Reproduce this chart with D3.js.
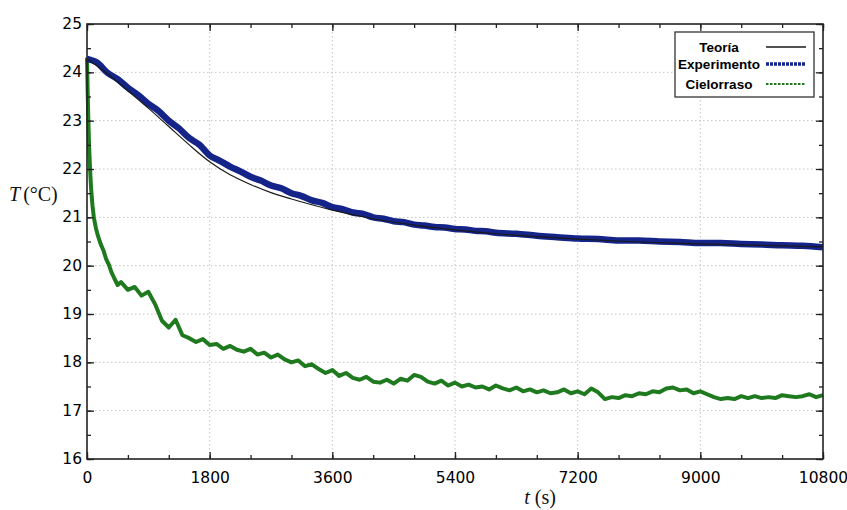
<!DOCTYPE html>
<html><head><meta charset="utf-8">
<script src="https://cdn.jsdelivr.net/npm/d3@7"></script>
<style>body{margin:0;background:#fff}svg{display:block}</style>
</head><body>
<svg id="c" width="847" height="510"></svg>
<script>
// ---- data ----
const xTicks = [0,1800,3600,5400,7200,9000,10800];
const yTicks = [16,17,18,19,20,21,22,23,24,25];

const theoryT = [0,300,600,900,1200,1500,1800,2100,2400,2700,3000,3300,3600,4200,4800,5400,6000,6600,7200,8100,9000,9900,10800];
const theoryV = [24.28,23.97,23.62,23.26,22.88,22.5,22.15,21.88,21.68,21.51,21.38,21.26,21.15,20.97,20.84,20.74,20.66,20.6,20.55,20.49,20.45,20.42,20.39];

const expT = [0,150,300,450,600,750,900,1050,1200,1350,1500,1650,1800,1950,2100,2250,2400,2550,2700,2850,3000,3150,3300,3450,3600,3750,3900,4050,4200,4350,4500,4650,4800,4950,5100,5250,5400,5550,5700,5850,6000,6300,6600,6900,7200,7500,7800,8100,8400,8700,9000,9300,9600,9900,10200,10500,10800];
const expV = [24.28,24.2,23.99,23.86,23.68,23.53,23.35,23.2,23.0,22.84,22.64,22.5,22.28,22.17,22.05,21.95,21.84,21.76,21.66,21.6,21.5,21.44,21.35,21.3,21.21,21.17,21.1,21.07,21.0,20.97,20.92,20.9,20.85,20.83,20.8,20.79,20.76,20.75,20.72,20.71,20.68,20.66,20.62,20.59,20.56,20.55,20.52,20.52,20.5,20.49,20.47,20.47,20.45,20.44,20.42,20.41,20.38];

const ceilT = [0,10,20,30,45,60,80,100,130,160,200,240,280,320,360,400,450,
  500,600,700,800,900,1000,1100,1200,1300,1400,1500,1600,1700,1800,1900,2000,2100,2200,2300,2400,2500,2600,2700,2800,2900,3000,
  3100,3200,3300,3400,3500,3600,3700,3800,3900,4000,4100,4200,4300,4400,4500,4600,4700,4800,4900,5000,5100,5200,5300,5400,
  5500,5600,5700,5800,5900,6000,6100,6200,6300,6400,6500,6600,6700,6800,6900,7000,7100,7200,7300,7400,7500,7600,7700,7800,
  7900,8000,8100,8200,8300,8400,8500,8600,8700,8800,8900,9000,9100,9200,9300,9400,9500,9600,9700,9800,9900,10000,10100,10200,
  10300,10400,10500,10600,10700,10800];
const ceilV = [24.3,23.6,23.0,22.5,22.0,21.6,21.25,21.0,20.78,20.62,20.45,20.32,20.14,20.02,19.86,19.74,19.6,
  19.66,19.5,19.56,19.38,19.46,19.2,18.86,18.72,18.88,18.56,18.5,18.42,18.48,18.36,18.38,18.28,18.34,18.26,18.22,18.28,18.16,18.2,18.1,18.16,18.06,18.0,
  18.04,17.92,17.96,17.86,17.78,17.84,17.72,17.78,17.68,17.64,17.7,17.6,17.58,17.64,17.56,17.66,17.62,17.74,17.7,17.6,17.56,17.62,17.52,17.58,
  17.5,17.54,17.48,17.5,17.44,17.52,17.46,17.42,17.48,17.4,17.44,17.38,17.42,17.36,17.38,17.44,17.36,17.4,17.34,17.46,17.38,17.24,17.28,17.26,
  17.32,17.3,17.36,17.34,17.4,17.38,17.46,17.48,17.42,17.44,17.36,17.4,17.34,17.28,17.24,17.26,17.24,17.3,17.26,17.3,17.26,17.28,17.26,17.32,
  17.3,17.28,17.3,17.34,17.28,17.32];

const seriesNames = ["Teoría","Experimento","Cielorraso"];
const colors = {theory:"#1a1a1a", exp:"#152488", ceil:"#1f7a1f"};

// ---- chart ----
const svg = d3.select("#c");
const x = d3.scaleLinear().domain([0,10800]).range([87,823]);
const y = d3.scaleLinear().domain([16,25]).range([459,24]);
const L=87,R=823,T=24,B=459;

// grid
const g = svg.append("g");
g.selectAll(".gx").data(xTicks.slice(1,-1)).enter().append("line")
  .attr("x1",d=>x(d)).attr("x2",d=>x(d)).attr("y1",T).attr("y2",B)
  .attr("stroke","#c4c4c4").attr("stroke-width",1).attr("stroke-dasharray","1.5,2.5");
g.selectAll(".gy").data(yTicks.slice(1,-1)).enter().append("line")
  .attr("y1",d=>y(d)).attr("y2",d=>y(d)).attr("x1",L).attr("x2",R)
  .attr("stroke","#c4c4c4").attr("stroke-width",1).attr("stroke-dasharray","1.5,2.5");

// curves
const mk = (ts,vs)=>ts.map((t,i)=>[t,vs[i]]);
const line = d3.line().x(d=>x(d[0])).y(d=>y(d[1]));
svg.append("path").datum(mk(ceilT,ceilV)).attr("d",line.curve(d3.curveLinear))
  .attr("fill","none").attr("stroke",colors.ceil).attr("stroke-width",4).attr("stroke-linejoin","round");
svg.append("path").datum(mk(expT,expV)).attr("d",d3.line().x(d=>x(d[0])).y(d=>y(d[1])).curve(d3.curveMonotoneX))
  .attr("fill","none").attr("stroke",colors.exp).attr("stroke-width",6.5).attr("stroke-linejoin","round");
svg.append("path").datum(mk(theoryT,theoryV)).attr("d",d3.line().x(d=>x(d[0])).y(d=>y(d[1])).curve(d3.curveMonotoneX))
  .attr("fill","none").attr("stroke",colors.theory).attr("stroke-width",1.2);

// axes with inward ticks
const minorX = d3.range(0,10801,600);
const minorY = d3.range(16,25.01,0.5);
const axB = d3.axisBottom(x).tickValues(minorX).tickSize(-4).tickFormat("");
const axT = d3.axisTop(x).tickValues(minorX).tickSize(-4).tickFormat("");
const axL = d3.axisLeft(y).tickValues(minorY).tickSize(-4).tickFormat("");
const axR = d3.axisRight(y).tickValues(minorY).tickSize(-4).tickFormat("");
const majB = d3.axisBottom(x).tickValues(xTicks).tickSize(-7).tickPadding(13).tickFormat(d3.format("d"));
const majT = d3.axisTop(x).tickValues(xTicks).tickSize(-7).tickFormat("");
const majL = d3.axisLeft(y).tickValues(yTicks).tickSize(-7).tickPadding(5).tickFormat(d3.format("d"));
const majR = d3.axisRight(y).tickValues(yTicks).tickSize(-7).tickFormat("");
function put(ax,tr){const a=svg.append("g").attr("transform",tr).call(ax);a.select(".domain").remove();a.selectAll("line").attr("stroke","#222").attr("stroke-width",1.3);return a;}
put(axB,`translate(0,${B})`);put(axT,`translate(0,${T})`);put(axL,`translate(${L},0)`);put(axR,`translate(${R},0)`);
const xb=put(majB,`translate(0,${B})`);put(majT,`translate(0,${T})`);const yl=put(majL,`translate(${L},0)`);put(majR,`translate(${R},0)`);
xb.selectAll("text").attr("font-family","DejaVu Sans").attr("font-size",15.5).attr("fill","#000");
yl.selectAll("text").attr("font-family","DejaVu Sans").attr("font-size",15.5).attr("fill","#000").attr("dy","0.28em");
svg.append("rect").attr("x",L).attr("y",T).attr("width",R-L).attr("height",B-T).attr("fill","none").attr("stroke","#222").attr("stroke-width",1.6);

// axis titles
const yt = svg.append("text").attr("x",9).attr("y",201).attr("font-family","Liberation Serif").attr("font-size",20).attr("fill","#111");
yt.append("tspan").attr("font-style","italic").text("T");
yt.append("tspan").attr("dx",3).text("(°C)");
const xt = svg.append("text").attr("x",540).attr("y",504).attr("text-anchor","middle").attr("font-family","Liberation Serif").attr("font-size",20).attr("fill","#111");
xt.append("tspan").attr("font-style","italic").text("t");
xt.append("tspan").text(" (s)");

// legend
const lg = svg.append("g");
lg.append("rect").attr("x",675).attr("y",32).attr("width",139).attr("height",65).attr("fill","#fff").attr("stroke","#333").attr("stroke-width",1.3);
const ly=[47,64,84];
const lstyle=[{c:colors.theory,w:1.3,da:null},{c:colors.exp,w:3.5,da:"3,1"},{c:colors.ceil,w:2.2,da:"2.5,1.5"}];
seriesNames.forEach((n,i)=>{
  lg.append("text").attr("x",719).attr("y",ly[i]+5).attr("text-anchor","middle")
    .attr("font-family","Liberation Sans").attr("font-weight","bold").attr("font-size",13.5).attr("fill","#000").text(n);
  lg.append("line").attr("x1",766).attr("x2",806).attr("y1",ly[i]).attr("y2",ly[i])
    .attr("stroke",lstyle[i].c).attr("stroke-width",lstyle[i].w).attr("stroke-dasharray",lstyle[i].da);
});
</script>
</body></html>
